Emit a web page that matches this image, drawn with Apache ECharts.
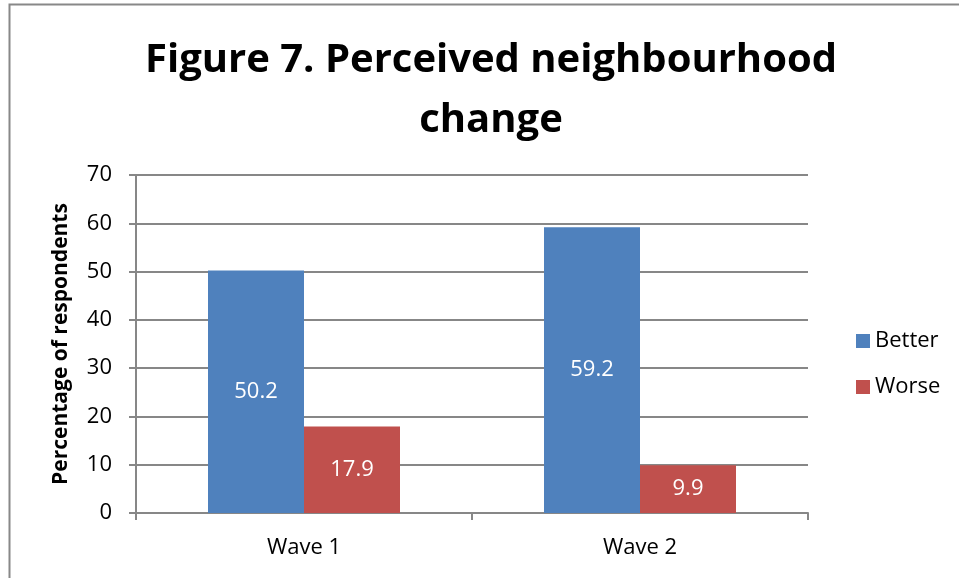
<!DOCTYPE html>
<html>
<head>
<meta charset="utf-8">
<script src="https://cdn.jsdelivr.net/npm/echarts@6/dist/echarts.min.js"></script>
<style>
  html, body { margin: 0; padding: 0; background: #fff; }
  #chart { width: 959px; height: 578px; }
</style>
</head>
<body>
<div id="chart"></div>
<script>
// data
const categories = ['Wave 1', 'Wave 2'];
const better = [50.2, 59.2];
const worse = [17.9, 9.9];

const chart = echarts.init(document.getElementById('chart'));
const font = '"Open Sans", "Liberation Sans", sans-serif';

chart.setOption({
  animation: false,
  textStyle: { fontFamily: font },
  title: {
    text: 'Figure 7. Perceived neighbourhood\nchange',
    left: 486,
    top: 26,
    textAlign: 'center',
    textStyle: { fontSize: 40, fontWeight: 'bold', color: '#000', lineHeight: 60, fontFamily: font }
  },
  graphic: [{
    type: 'polyline',
    shape: { points: [[9.5, 600], [9.5, 4.5], [960, 4.5]] },
    style: { fill: 'none', stroke: '#888', lineWidth: 2 },
    silent: true
  }],
  legend: {
    orient: 'vertical',
    left: 851,
    top: 325,
    itemWidth: 14,
    itemHeight: 14,
    itemGap: 24,
    icon: 'rect',
    textStyle: { fontSize: 22, color: '#000', fontFamily: font },
    data: ['Better', 'Worse']
  },
  grid: { left: 136, right: 151, top: 175, bottom: 65 },
  xAxis: {
    type: 'category',
    data: categories,
    axisLine: { lineStyle: { color: '#878787', width: 2 } },
    axisTick: { show: true, length: 7, lineStyle: { color: '#878787', width: 2 } },
    axisLabel: { fontSize: 22, color: '#000', margin: 24 }
  },
  yAxis: {
    type: 'value',
    min: 0,
    max: 70,
    interval: 10,
    name: 'Percentage of respondents',
    nameLocation: 'middle',
    nameGap: 64,
    nameTextStyle: { fontSize: 21, fontWeight: 'bold', color: '#000' },
    axisLine: { show: true, lineStyle: { color: '#878787', width: 2 } },
    axisTick: { show: true, length: 7, lineStyle: { color: '#878787', width: 2 } },
    splitLine: { lineStyle: { color: '#878787', width: 2 } },
    axisLabel: { fontSize: 22, color: '#000', margin: 24 }
  },
  series: [
    {
      name: 'Better',
      type: 'bar',
      data: better,
      barWidth: 96,
      barGap: '0%',
      itemStyle: { color: '#4F81BD' },
      label: { show: true, position: 'inside', fontSize: 22, color: '#fff', formatter: p => p.value.toFixed(1) }
    },
    {
      name: 'Worse',
      type: 'bar',
      data: worse,
      barWidth: 96,
      barGap: '0%',
      itemStyle: { color: '#C0504D' },
      label: { show: true, position: 'inside', fontSize: 22, color: '#fff', formatter: p => p.value.toFixed(1) }
    }
  ]
});
</script>
</body>
</html>
